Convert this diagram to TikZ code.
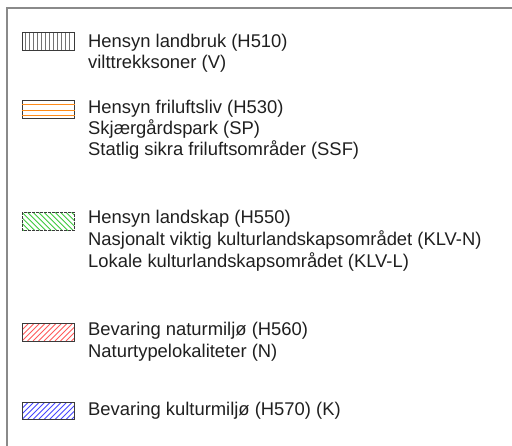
\documentclass[tikz,border=0pt]{standalone}
\usepackage{fontspec}
\setmainfont{Liberation Sans}
\definecolor{frameGray}{HTML}{8A8A8A}
\definecolor{boxGray}{HTML}{3A3A3A}
\definecolor{hOrange}{HTML}{FF8C1A}
\definecolor{hGreen}{HTML}{3CC83C}
\definecolor{hRed}{HTML}{FF5A5A}
\definecolor{hBlue}{HTML}{4646FF}
\begin{document}
\begin{tikzpicture}[x=1pt,y=-1pt,
  lbl/.style={anchor=base west, inner sep=0pt, font=\fontsize{18.4}{21}\selectfont, text=black!88},
  keybox/.style={draw=boxGray, line width=0.9pt},
  hatch/.style={line width=0.9pt}
]
\useasboundingbox (0,0) rectangle (512,446);
% frame
\draw[frameGray, line width=1.6pt] (7,446) -- (7,8) -- (512,8);

% box 1: vertical lines
\foreach \x in {25.5,29.5,...,72} \draw[black!55, line width=0.7pt] (\x,32.3) -- (\x,50.3);
\draw[keybox] (22.3,32.3) rectangle (74.3,50.3);

% box 2: orange horizontal lines
\draw[keybox] (22.3,100.5) rectangle (74.3,118);
\foreach \y in {105,110.5,116} \draw[hOrange, line width=1pt] (21.5,\y) -- (75.1,\y);

% box 3: green hatch (\\)
\begin{scope}
\clip (22.3,212.3) rectangle (74.3,230.7);
\foreach \x in {0,5.5,...,80} \draw[hGreen, hatch] (\x,212.3) -- ++(18.4,18.4);
\end{scope}
\draw[keybox, dash pattern=on 3pt off 1pt] (22.3,212.3) rectangle (74.3,230.7);

% box 4: red hatch (/)
\begin{scope}
\clip (22.3,323.3) rectangle (74.3,341);
\foreach \x in {0,5.5,...,80} \draw[hRed, hatch] (\x,341) -- ++(17.7,-17.7);
\end{scope}
\draw[keybox] (22.3,323.3) rectangle (74.3,341);

% box 5: blue hatch (/)
\begin{scope}
\clip (22.3,402.3) rectangle (74.3,419.5);
\foreach \x in {0,5.5,...,80} \draw[hBlue, hatch] (\x,419.5) -- ++(17.2,-17.2);
\end{scope}
\draw[keybox] (22.3,402.3) rectangle (74.3,419.5);

% labels
\node[lbl] (t1a) at (88,48) {Hensyn landbruk (H510)};
\node[lbl] (t1b) at (88,69) {vilttrekksoner (V)};
\node[lbl] (t2a) at (88,114) {Hensyn friluftsliv (H530)};
\node[lbl] (t2b) at (88,135) {Skjærgårdspark (SP)};
\node[lbl] (t2c) at (88,156) {Statlig sikra friluftsområder (SSF)};
\node[lbl] (t3a) at (88,224) {Hensyn landskap (H550)};
\node[lbl] (t3b) at (88,246) {Nasjonalt viktig kulturlandskapsområdet (KLV-N)};
\node[lbl] (t3c) at (88,268) {Lokale kulturlandskapsområdet (KLV-L)};
\node[lbl] (t4a) at (88,336) {Bevaring naturmiljø (H560)};
\node[lbl] (t4b) at (88,358) {Naturtypelokaliteter (N)};
\node[lbl] (t5a) at (88,416) {Bevaring kulturmiljø (H570) (K)};
\end{tikzpicture}
\end{document}
